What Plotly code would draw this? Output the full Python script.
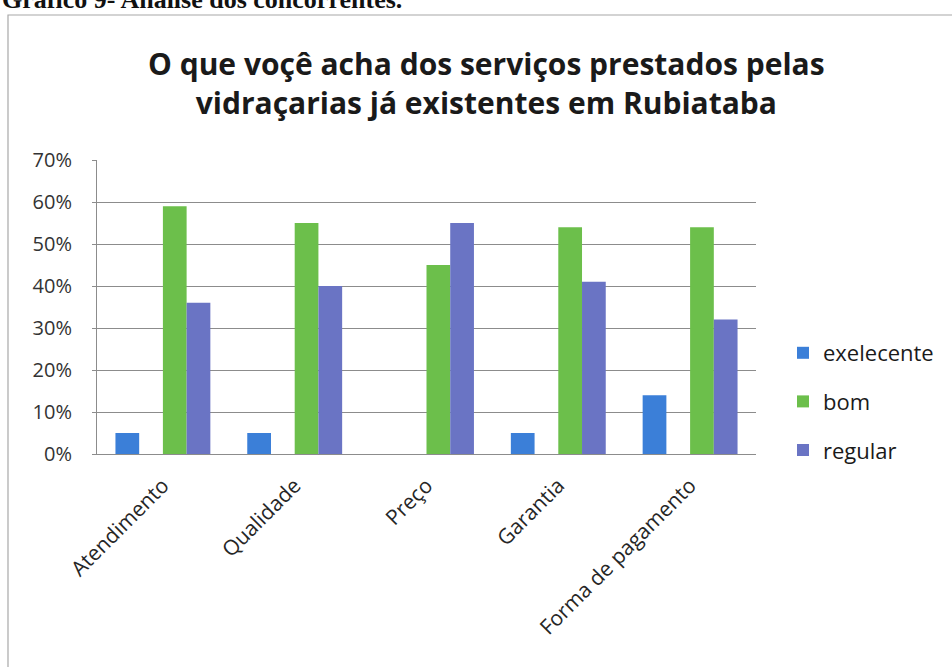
import plotly.graph_objects as go

categories = ["Atendimento", "Qualidade", "Preço", "Garantia", "Forma de pagamento"]
exelecente = [0.05, 0.05, 0.0, 0.05, 0.14]
bom = [0.59, 0.55, 0.45, 0.54, 0.54]
regular = [0.36, 0.40, 0.55, 0.41, 0.32]
y_ticks = [0, 0.1, 0.2, 0.3, 0.4, 0.5, 0.6, 0.7]
y_tick_labels = ["0%", "10%", "20%", "30%", "40%", "50%", "60%", "70%"]

W, H = 952, 667
L, R, T, B = 97, 196, 160, 213

fig = go.Figure()
series = [
    ("exelecente", exelecente, "#3b7fd8", -0.36),
    ("bom", bom, "#6cbf4b", 0.0),
    ("regular", regular, "#6a74c4", 0.18),
]
for name, vals, color, off in series:
    fig.add_trace(go.Bar(
        x=categories, y=vals, name=name, marker=dict(color=color, line=dict(width=0)),
        width=0.18, offset=off, legendgroup=name,
    ))

pw = W - L - R
ph = H - T - B

def px_x(px):
    return (px - L) / pw

def px_y(py):
    return (H - B - py) / ph

FONT = "Open Sans, Lato, sans-serif"

fig.update_layout(
    width=W, height=H,
    margin=dict(l=L, r=R, t=T, b=B, autoexpand=False),
    paper_bgcolor="white", plot_bgcolor="white",
    font=dict(family=FONT, color="#262626"),
    barmode="group",
    showlegend=True,
    legend=dict(
        x=px_x(783), y=px_y(332), xanchor="left", yanchor="top",
        font=dict(size=22, color="#1a1a1a", family=FONT),
        tracegroupgap=17, traceorder="grouped", bgcolor="rgba(0,0,0,0)",
    ),
    xaxis=dict(
        type="category", tickangle=-45, showgrid=False,
        showline=True, linecolor="#8c8c8c", linewidth=1,
        tickfont=dict(size=21, color="#262626", family=FONT), ticks="",
        ticklabelstandoff=10,
    ),
    yaxis=dict(
        range=[0, 0.7], tickvals=y_ticks, ticktext=y_tick_labels,
        showgrid=True, gridcolor="#8c8c8c", gridwidth=1,
        showline=True, linecolor="#8c8c8c", linewidth=1,
        ticks="outside", ticklen=4, tickcolor="#8c8c8c",
        tickfont=dict(size=20, color="#333333", family=FONT), zeroline=False,
        ticklabelstandoff=16,
    ),
    annotations=[
        dict(
            text="O que voçê acha dos serviços prestados pelas<br>vidraçarias já existentes em Rubiataba",
            xref="paper", yref="paper", x=px_x(486), y=px_y(83), xanchor="center", yanchor="middle",
            showarrow=False, font=dict(size=30, color="#1a1a1a", family=FONT, weight="bold"),
        ),
        dict(
            text="<b>Gráfico 9- Análise dos concorrentes.</b>",
            xref="paper", yref="paper", x=px_x(0), y=px_y(16), xanchor="left", yanchor="bottom",
            showarrow=False, font=dict(size=26, color="#111111", family="Liberation Serif, serif"),
        ),
    ],
    shapes=[
        dict(type="rect", xref="paper", yref="paper",
             x0=px_x(8), x1=px_x(970), y0=px_y(15), y1=px_y(700),
             line=dict(color="#a8a8a8", width=1.2), layer="below"),
    ],
)

fig.write_html("out.html")
